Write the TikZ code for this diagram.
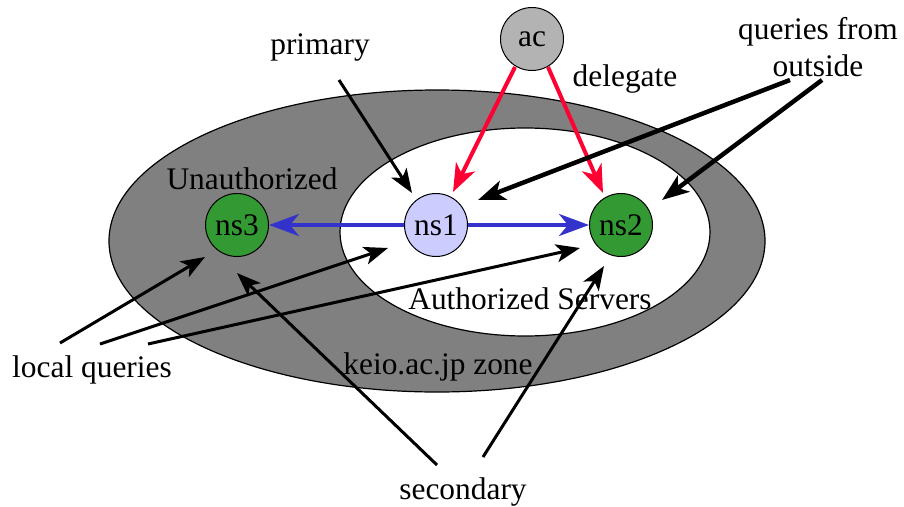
\documentclass[tikz,border=0pt]{standalone}
\usepackage{fontspec}
\setmainfont{Liberation Serif}
\usetikzlibrary{arrows.meta,calc}
\definecolor{zonegray}{RGB}{128,128,128}
\definecolor{acgray}{RGB}{179,179,179}
\definecolor{nsblue}{RGB}{204,204,255}
\definecolor{nsgreen}{RGB}{51,153,51}
\definecolor{delred}{RGB}{255,0,51}
\definecolor{xferblue}{RGB}{51,51,204}
\tikzset{
  server/.style={circle, draw=black, line width=1pt, minimum size=63pt, inner sep=0pt},
  lbl/.style={inner sep=0pt, align=center},
  blackarrow/.style={draw=black, line width=3pt, -{Stealth[length=24pt,width=18pt,inset=6pt]}},
  thickarrow/.style={draw=black, line width=4.5pt, -{Stealth[length=27pt,width=20pt,inset=7pt]}},
  redarrow/.style={draw=delred, line width=4pt, -{Stealth[length=28pt,width=21pt,inset=8pt]}},
  bluearrow/.style={draw=xferblue, line width=4pt, -{Stealth[length=30pt,width=22pt,inset=9pt]}},
  zone/.style={draw=black, line width=1.2pt}
}
\begin{document}
\begin{tikzpicture}[x=1pt,y=-1pt,font=\fontsize{31.4}{37}\selectfont]
\useasboundingbox (0,0) rectangle (904,506);
% zones
\path[zone, fill=zonegray] (437,241) ellipse [x radius=328pt, y radius=151pt];
\path[zone, fill=white] (525,232) ellipse [x radius=185pt, y radius=104pt];
% zone labels
\node[lbl] (unauth) at (252,179) {Unauthorized};
\node[lbl] (auth) at (530,299) {Authorized Servers};
\node[lbl] (zonelbl) at (438,367) {keio.ac.jp zone};
% servers
\node[server, fill=acgray] (ac) at (532,39) {ac};
\node[server, fill=nsblue] (ns1) at (436,225) {ns1};
\node[server, fill=nsgreen] (ns2) at (621,225) {ns2};
\node[server, fill=nsgreen] (ns3) at (237,225) {ns3};
% labels
\node[lbl] (primary) at (320,47) {primary};
\node[lbl] (delegate) at (625,79) {delegate};
\node[lbl] (outside) at (818,47) {queries from\\outside};
\node[lbl] (local) at (92,370) {local queries};
\node[lbl] (secondary) at (463,492) {secondary};
% label ends
\coordinate (pS) at (339,80);
\coordinate (oS1) at (790,80);
\coordinate (oS2) at (822,80);
\coordinate (lS1) at (60,343);
\coordinate (lS2) at (100,344);
\coordinate (lS3) at (148,344);
\coordinate (sS1) at (437,465);
\coordinate (sS2) at (483,457);
% delegation
\draw[redarrow] ($(ac)+(-17,28)$) -- ($(ns1)+(17,-33)$);
\draw[redarrow] ($(ac)+(16,28)$) -- ($(ns2)+(-18,-32)$);
% zone transfer
\draw[bluearrow] (ns1.west) -- (ns3.east);
\draw[bluearrow] (ns1.east) -- (ns2.west);
% black arrows
\draw[blackarrow] (pS) -- ($(ns1)+(-24,-32)$);
\draw[thickarrow] (oS1) -- ($(ns1)+(42,-25)$);
\draw[thickarrow] (oS2) -- ($(ns2)+(41,-25)$);
\draw[blackarrow] (lS1) -- ($(ns3)+(-32,32)$);
\draw[blackarrow] (lS2) -- ($(ns1)+(-48,23)$);
\draw[blackarrow] (lS3) -- ($(ns2)+(-41,23)$);
\draw[blackarrow] (sS1) -- ($(ns3)+(0,48)$);
\draw[blackarrow] (sS2) -- ($(ns2)+(-17,41)$);
\end{tikzpicture}
\end{document}
